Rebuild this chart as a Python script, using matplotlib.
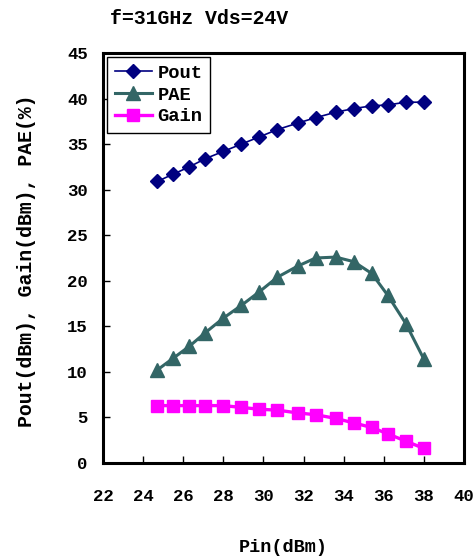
import matplotlib
matplotlib.use("Agg")
import matplotlib.pyplot as plt

pin = [24.7, 25.5, 26.3, 27.1, 28.0, 28.9, 29.8, 30.7, 31.7, 32.6, 33.6, 34.5, 35.4, 36.2, 37.1, 38.0]
pout = [30.9, 31.7, 32.5, 33.4, 34.2, 35.0, 35.8, 36.6, 37.3, 37.9, 38.5, 38.9, 39.2, 39.3, 39.6, 39.6]
pae = [10.2, 11.5, 12.8, 14.3, 15.9, 17.3, 18.8, 20.4, 21.6, 22.5, 22.6, 22.1, 20.8, 18.4, 15.3, 11.4]
gain = [6.3, 6.3, 6.3, 6.3, 6.3, 6.1, 5.9, 5.8, 5.5, 5.3, 4.9, 4.4, 3.9, 3.2, 2.4, 1.6]

xticks = [22, 24, 26, 28, 30, 32, 34, 36, 38, 40]
yticks = [0, 5, 10, 15, 20, 25, 30, 35, 40, 45]

title = "f=31GHz Vds=24V"
xlabel = "Pin(dBm)"
ylabel = "Pout(dBm), Gain(dBm), PAE(%)"

plt.rcParams['font.family'] = ['Liberation Mono', 'DejaVu Sans Mono']
plt.rcParams['font.weight'] = 'bold'

fig = plt.figure(figsize=(4.76, 5.57), dpi=100)
ax = fig.add_axes([103/476, 1 - 463/557, (464 - 103)/476, (463 - 53)/557])

ax.plot(pin, pout, color='#000080', lw=1.2, marker='D', ms=7.4, label='Pout', zorder=3)
ax.plot(pin, pae, color='#336666', lw=2.2, marker='^', ms=10.7, label='PAE', zorder=3)
ax.plot(pin, gain, color='#FF00FF', lw=2.4, marker='s', ms=8.4, label='Gain', zorder=3)

ax.set_xlim(22, 40)
ax.set_ylim(0, 45)
ax.set_xticks(xticks)
ax.set_yticks(yticks)
ax.set_xticklabels([str(v) for v in xticks], fontsize=12.5, fontweight='bold')
ax.set_yticklabels([str(v) for v in yticks], fontsize=12.5, fontweight='bold')
ax.tick_params(axis='x', direction='in', length=5, width=1, pad=19)
ax.tick_params(axis='y', direction='in', length=5, width=1, pad=11)

for s in ax.spines.values():
    s.set_linewidth(2.2)
    s.set_color('black')

leg = ax.legend(loc='upper left', frameon=True, fancybox=False,
                edgecolor='black', framealpha=1, borderaxespad=0.22,
                handlelength=2.0, handletextpad=0.3, labelspacing=0.25,
                borderpad=0.4, prop={'family': ['Liberation Mono'], 'weight': 'bold', 'size': 13.5})
leg.get_frame().set_linewidth(1.0)

fig.text(110/476, 1 - 18/557, title, fontsize=14.3, fontweight='bold', ha='left', va='center')
fig.text(283/476, 1 - 547/557, xlabel, fontsize=13.3, fontweight='bold', ha='center', va='center')
fig.text(27/476, 1 - 261/557, ylabel, fontsize=14.3, fontweight='bold', ha='center', va='center', rotation=90)

fig.savefig('out.png', dpi=100)
